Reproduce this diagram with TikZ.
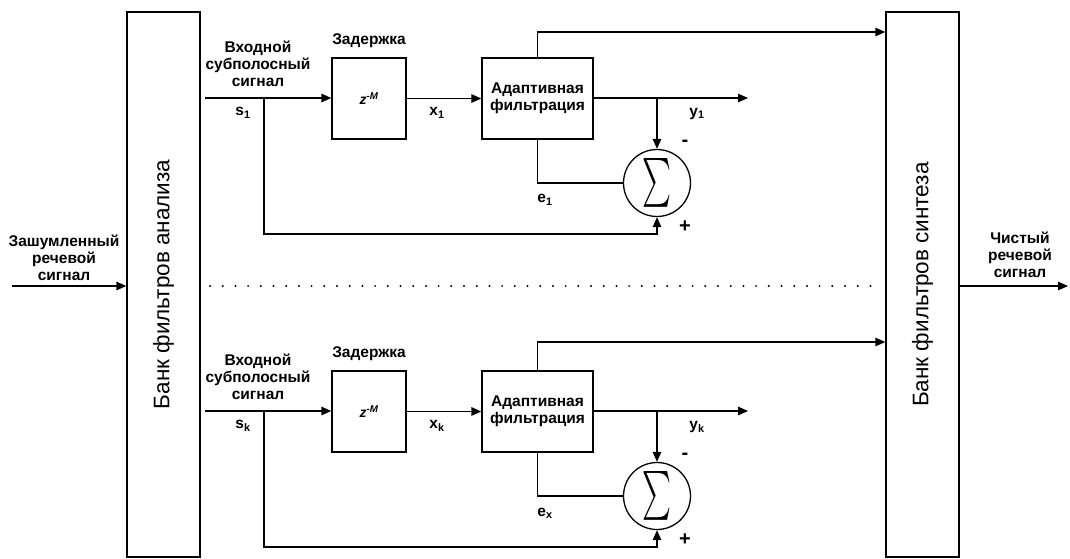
\documentclass[tikz,border=0pt]{standalone}
\usepackage{fontspec}
\setmainfont{Liberation Sans}
\usepackage{graphicx}
\usetikzlibrary{arrows.meta,positioning}

\begin{document}
\begin{tikzpicture}[x=1pt,y=-1pt,line join=miter,
  every node/.style={font=\fontsize{15.5}{16.8}\selectfont\bfseries,inner sep=0pt},
  wire/.style={line width=1.4pt},
  arr/.style={wire,-{Triangle[length=10pt,width=8.5pt]}},
  blockbox/.style={draw,line width=1.3pt,minimum height=81pt},
  bankbox/.style={draw,line width=1.3pt,minimum width=73pt,minimum height=545pt},
  banklabel/.style={rotate=90,font=\fontsize{22.5}{24}\selectfont},
  sumnode/.style={draw,circle,line width=1.3pt,minimum size=67pt},
  lbl/.style={align=center},
  sgn/.style={font=\fontsize{20}{20}\selectfont\bfseries},
  dotline/.style={line width=2.2pt,line cap=round,dash pattern=on 0pt off 12.7pt}]
  \useasboundingbox (0,0) rectangle (1070,559);

  % filter banks
  \node[bankbox] (anal) at (163.5,284.5) {};
  \node[banklabel] at (anal.center) {Банк фильтров анализа};
  \node[bankbox] (synt) at (922.5,284.5) {};
  \node[banklabel] at (synt.center) {Банк фильтров синтеза};

  % input and output
  \coordinate (in) at (12,286);
  \coordinate (out) at (1068,286);
  \draw[arr] (in) -- (in -| anal.west);
  \draw[arr] (out -| synt.east) -- (out);
  \node[lbl] at (64,258) {Зашумленный\\речевой\\сигнал};
  \node[lbl] at (1020,255) {Чистый\\речевой\\сигнал};
  \draw[dotline] (210,286) -- (882,286);

  % subband channels
  \foreach \dy/\ty/\k/\e/\n in {0/32/1/1/a,313/342/k/x/b}{
    \node[blockbox,minimum width=74pt] (delay\n) at (369,98.5+\dy) {\fontsize{14}{14}\selectfont\itshape z\textsuperscript{-M}};
    \node[above=9pt of delay\n] {Задержка};
    \node[blockbox,minimum width=111pt,lbl] (filt\n) at (537.5,98.5+\dy) {Адаптивная\\фильтрация};
    \node[sumnode] (sum\n) at (657,183+\dy) {\resizebox{29pt}{42pt}{$\sum$}};

    \coordinate (src\n) at (205,98+\dy);
    \coordinate (br\n) at (264,98+\dy);
    \coordinate (fb\n) at (657,234+\dy);
    \coordinate (top\n) at (0,\ty);
    \coordinate (yout\n) at (748,98+\dy);
    \coordinate (tap\n) at (sum\n.north |- yout\n);

    \draw[arr] (src\n) -- (src\n -| delay\n.west);
    \draw[arr] (br\n) |- (fb\n) -- (sum\n.south);
    \draw[arr] (delay\n.east) -- (filt\n.west);
    \draw[arr] (filt\n.east |- yout\n) -- (yout\n);
    \draw[arr] (tap\n) -- (sum\n.north);
    \draw[wire] (filt\n.south) |- (sum\n.west);
    \draw[arr] (filt\n.north) |- (top\n -| synt.west);

    \node[lbl] at (258,64+\dy) {Входной\\субполосный\\сигнал};
    \node at (243,113+\dy) {s\textsubscript{\k}};
    \node at (437,113+\dy) {x\textsubscript{\k}};
    \node at (697,114+\dy) {y\textsubscript{\k}};
    \node at (545,200+\dy) {e\textsubscript{\e}};
    \node[sgn] at (685,143+\dy) {-};
    \node[sgn] at (685,227+\dy) {+};
  }
\end{tikzpicture}
\end{document}
